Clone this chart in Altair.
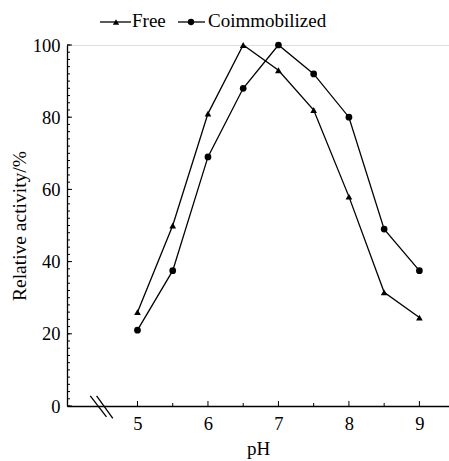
import altair as alt
import pandas as pd

ph = [5, 5.5, 6, 6.5, 7, 7.5, 8, 8.5, 9]
free = [26, 50, 81, 100, 93, 82, 58, 31.5, 24.5]
coimm = [21, 37.5, 69, 88, 100, 92, 80, 49, 37.5]
series = ["Free", "Coimmobilized"]
shapes = ["triangle-up", "circle"]

y_major = [0, 20, 40, 60, 80, 100]
y_minor = list(range(0, 101, 2))
x_major = [5, 6, 7, 8, 9]
x_minor = [5.5, 6.5, 7.5, 8.5]

# axis break marks (data coordinates)
brk_x = [4.33, 4.42]
brk_x2 = [4.56, 4.65]
brk_y = [2.8, 2.8]
brk_y2 = [-3.0, -3.4]

FONT = "Liberation Serif"
W, H = 382, 361

rows = []
for s, vals in zip(series, [free, coimm]):
    for p, v in zip(ph, vals):
        rows.append({"pH": p, "act": v, "series": s})
df = pd.DataFrame(rows)

xs = alt.Scale(domain=[4, 9.42], nice=False, zero=False)
ys = alt.Scale(domain=[0, 100], nice=False)

base = alt.Chart(df)
lines = base.mark_line(color="black", strokeWidth=1.3).encode(
    x=alt.X("pH:Q", scale=xs,
            axis=alt.Axis(values=x_major, ticks=False, grid=False, title="pH",
                          labelFont=FONT, labelFontSize=18.5, labelColor="black",
                          labelPadding=8, titleFont=FONT, titleFontSize=19,
                          titleFontWeight="normal", titleColor="black",
                          titlePadding=7, domainColor="black", domainWidth=1.3,
                          format="d")),
    y=alt.Y("act:Q", scale=ys,
            axis=alt.Axis(values=y_major, ticks=False, grid=False,
                          title="Relative activity/%",
                          labelFont=FONT, labelFontSize=18.5, labelColor="black",
                          labelPadding=7, titleFont=FONT, titleFontSize=19.5,
                          titleFontWeight="normal", titleColor="black",
                          titlePadding=3, domainColor="black", domainWidth=1.3)),
    detail="series:N",
)
points = base.mark_point(filled=True, color="black", opacity=1, size=45).encode(
    x=alt.X("pH:Q", scale=xs),
    y=alt.Y("act:Q", scale=ys),
    shape=alt.Shape("series:N", scale=alt.Scale(domain=series, range=shapes), legend=None),
)

ymaj = alt.Chart(pd.DataFrame({"v": y_major})).mark_rule(color="black", strokeWidth=1).encode(
    y=alt.Y("v:Q", scale=ys), x=alt.value(0), x2=alt.value(5))
ymin = alt.Chart(pd.DataFrame({"v": y_minor})).mark_rule(color="black", strokeWidth=1).encode(
    y=alt.Y("v:Q", scale=ys), x=alt.value(0), x2=alt.value(3))
xmaj = alt.Chart(pd.DataFrame({"v": x_major})).mark_rule(color="black", strokeWidth=1).encode(
    x=alt.X("v:Q", scale=xs), y=alt.value(H), y2=alt.value(H - 5))
xmin = alt.Chart(pd.DataFrame({"v": x_minor})).mark_rule(color="black", strokeWidth=1).encode(
    x=alt.X("v:Q", scale=xs), y=alt.value(H), y2=alt.value(H - 3))

brk = alt.Chart(pd.DataFrame({"x": brk_x, "x2": brk_x2, "y": brk_y, "y2": brk_y2})).mark_rule(
    color="black", strokeWidth=1.3, clip=False).encode(
    x=alt.X("x:Q", scale=xs), x2="x2:Q", y=alt.Y("y:Q", scale=ys), y2="y2:Q")

# legend
leg = pd.DataFrame({"series": series, "lx": [33, 111], "lx2": [64, 138],
                    "mx": [49, 124], "tx": [65, 141]})
leg_line = alt.Chart(leg).mark_rule(color="black", strokeWidth=1.3).encode(
    x=alt.X("lx:Q", scale=None), x2="lx2:Q", y=alt.value(-23))
leg_pt = alt.Chart(leg).mark_point(filled=True, color="black", opacity=1, size=40).encode(
    x=alt.X("mx:Q", scale=None), y=alt.value(-23),
    shape=alt.Shape("series:N", scale=alt.Scale(domain=series, range=shapes), legend=None))
leg_txt = alt.Chart(leg).mark_text(font=FONT, fontSize=19, align="left", baseline="middle",
                                   color="black").encode(
    x=alt.X("tx:Q", scale=None), y=alt.value(-24), text="series:N")

chart = alt.layer(ymin, ymaj, xmin, xmaj, lines, points, brk, leg_line, leg_pt, leg_txt).properties(
    width=W, height=H,
    autosize=alt.AutoSizeParams(type="none"),
    padding={"left": 67, "top": 45, "right": 0, "bottom": 55},
).configure_view(stroke=None).configure(background="white")

chart.save("out.html", embed_options={"renderer": "svg", "actions": False})
